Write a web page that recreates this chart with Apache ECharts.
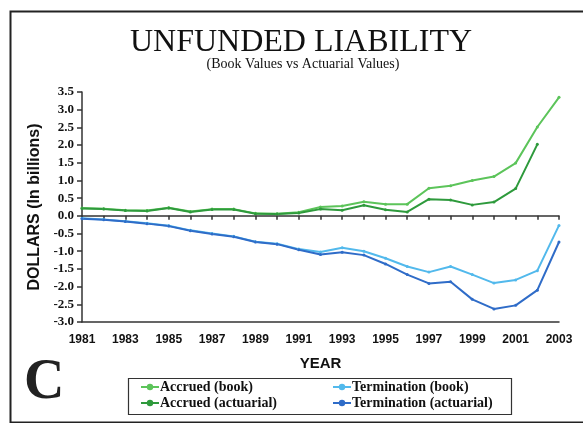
<!DOCTYPE html>
<html><head><meta charset="utf-8">
<script src="https://cdn.jsdelivr.net/npm/echarts@6/dist/echarts.min.js"></script>
<style>html,body{margin:0;padding:0;background:#fff}#c{width:583px;height:423px}</style>
</head><body><div id="c"></div>
<script>
const years = ['1981','1982','1983','1984','1985','1986','1987','1988','1989','1990','1991','1992','1993','1994','1995','1996','1997','1998','1999','2000','2001','2002','2003'];
const accruedBook = [0.22,0.20,0.16,0.15,0.23,0.12,0.19,0.19,0.07,0.06,0.10,0.25,0.28,0.40,0.33,0.33,0.78,0.85,1.00,1.11,1.49,2.51,3.35];
const accruedActuarial = [0.21,0.19,0.15,0.14,0.22,0.11,0.18,0.18,0.06,0.05,0.08,0.19,0.16,0.30,0.17,0.11,0.47,0.45,0.31,0.39,0.77,2.02,null];
const terminationBook = [-0.07,-0.10,-0.15,-0.21,-0.28,-0.41,-0.50,-0.58,-0.73,-0.79,-0.94,-1.02,-0.90,-1.00,-1.20,-1.43,-1.59,-1.43,-1.66,-1.90,-1.81,-1.55,-0.27];
const terminationActuarial = [-0.08,-0.11,-0.16,-0.22,-0.29,-0.42,-0.51,-0.59,-0.74,-0.80,-0.96,-1.09,-1.03,-1.11,-1.36,-1.66,-1.91,-1.86,-2.36,-2.63,-2.53,-2.10,-0.74];
const seriesNames = ['Accrued (book)','Accrued (actuarial)','Termination (book)','Termination (actuarial)'];
const colors = ['#5cc45a','#2e9a3c','#52b9ec','#2f6cc8'];

const chart = echarts.init(document.getElementById('c'));
const serif = '"Liberation Serif","Times New Roman",serif';
const sans = '"Liberation Sans",Arial,sans-serif';
function mk(name, data, color){
  return {name, type:'line', data, xAxisIndex:0, color, symbol:'circle', symbolSize:3,
    lineStyle:{width:2,color}, itemStyle:{color}, connectNulls:false, animation:false};
}
chart.setOption({
  animation:false,
  title:[
    {text:'UNFUNDED LIABILITY', left:296, top:22, textAlign:'center',
     textStyle:{fontFamily:serif, fontSize:32, fontWeight:'normal', color:'#111'}},
    {text:'(Book Values vs Actuarial Values)', left:298, top:52, textAlign:'center',
     textStyle:{fontFamily:serif, fontSize:14, fontWeight:'normal', color:'#111'}}
  ],
  grid:{left:82, right:24, top:92, bottom:101, containLabel:false},
  legend:[
    {data:[seriesNames[0],seriesNames[1]], orient:'vertical', left:135, top:375, itemGap:2,
     itemWidth:18, itemHeight:8, textStyle:{fontFamily:serif, fontSize:14, fontWeight:'bold', color:'#111', padding:[0,0,0,-4]}},
    {data:[seriesNames[2],seriesNames[3]], orient:'vertical', left:327, top:375, itemGap:2,
     itemWidth:18, itemHeight:8, textStyle:{fontFamily:serif, fontSize:14, fontWeight:'bold', color:'#111', padding:[0,0,0,-4]}}
  ],
  xAxis:[
    {type:'category', data:years, boundaryGap:false, position:'bottom',
     axisLine:{onZero:false, lineStyle:{color:'#333', width:1.5}},
     axisTick:{show:false},
     axisLabel:{interval:1, margin:12, fontFamily:sans, fontSize:12, fontWeight:'bold', color:'#111'},
     name:'YEAR', nameLocation:'middle', nameGap:34,
     nameTextStyle:{fontFamily:sans, fontSize:15, fontWeight:'bold', color:'#111'}},
    {type:'category', data:years, boundaryGap:false, position:'top',
     axisLine:{onZero:true, lineStyle:{color:'#333', width:1.5}},
     axisTick:{show:true, inside:true, length:4, interval:0, lineStyle:{color:'#333', width:1.5}},
     axisLabel:{show:false}}
  ],
  yAxis:{type:'value', min:-3, max:3.5, interval:0.5,
    axisLine:{show:true, lineStyle:{color:'#333', width:1.5}},
    axisTick:{show:true, length:5, lineStyle:{color:'#333', width:1.5}},
    splitLine:{show:false},
    axisLabel:{margin:8, formatter:v=>v.toFixed(1), fontFamily:serif, fontSize:13, fontWeight:'bold', color:'#111'},
    name:'DOLLARS (In billions)', nameLocation:'middle', nameGap:37, nameRotate:90,
    nameTextStyle:{fontFamily:sans, fontSize:16, fontWeight:'bold', color:'#111'}},
  series:[
    mk(seriesNames[0], accruedBook, colors[0]),
    mk(seriesNames[1], accruedActuarial, colors[1]),
    mk(seriesNames[2], terminationBook, colors[2]),
    mk(seriesNames[3], terminationActuarial, colors[3])
  ],
  graphic:[
    {type:'rect', left:8, top:9, shape:{width:640, height:411}, style:{fill:null, stroke:'#222', lineWidth:2}, silent:true},
    {type:'rect', left:126, top:376, shape:{width:383, height:36}, style:{fill:null, stroke:'#333', lineWidth:1.2}, silent:true},
    {type:'text', left:24, top:356, style:{text:'C', font:'bold 56px "Liberation Serif","Times New Roman",serif', fill:'#222'}}
  ]
});
</script></body></html>
